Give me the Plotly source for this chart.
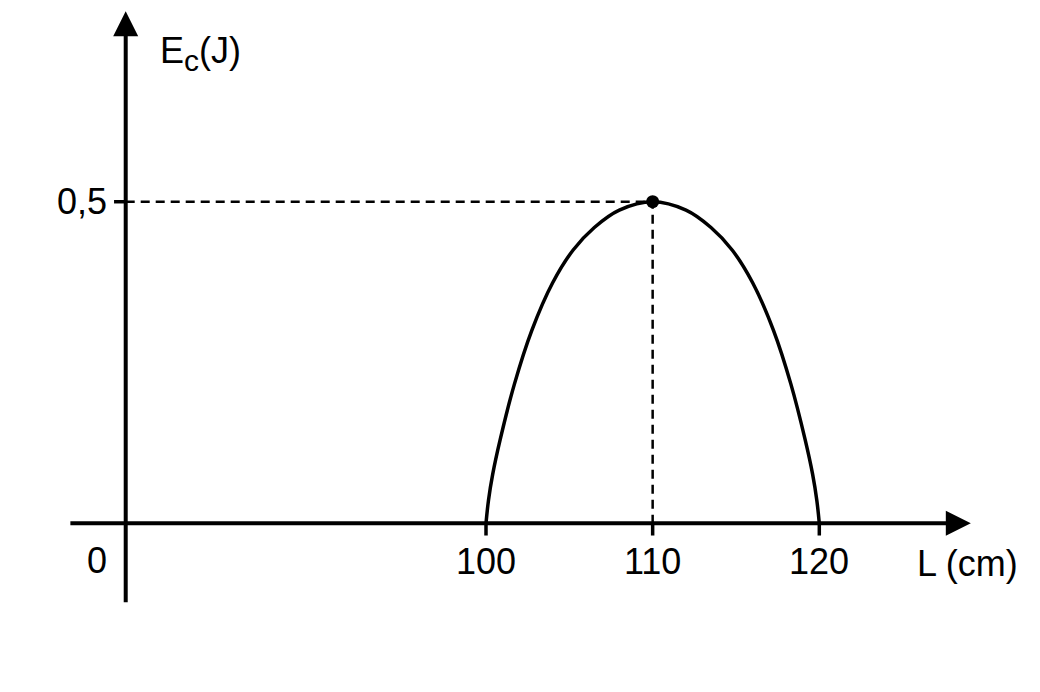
import plotly.graph_objects as go

# Ec (J) versus L (cm)
curve_L = [100, 100.15, 100.4, 100.85, 101.7, 102.75, 104, 105.23, 106.5, 108, 110,
           112, 113.5, 114.77, 116, 117.25, 118.3, 119.15, 119.6, 119.85, 120]
curve_Ec = [0, 0.036, 0.076, 0.13, 0.216, 0.30, 0.374, 0.425, 0.46, 0.487, 0.5,
            0.487, 0.46, 0.425, 0.374, 0.30, 0.216, 0.13, 0.076, 0.036, 0]

peak_L = [110]
peak_Ec = [0.5]

x_ticks = [100, 110, 120]
x_tick_labels = ["100", "110", "120"]
y_ticks = [0.5]
y_tick_labels = ["0,5"]

# where the (broken) axes sit in data units
origin_L = 78.38
x_axis_start, x_axis_end = 74.97, 129.09
y_axis_start, y_axis_end = -0.125, 0.796

font = dict(family="Liberation Sans, Arial, sans-serif", size=36, color="black")

fig = go.Figure()

# the curve
fig.add_trace(go.Scatter(
    x=curve_L, y=curve_Ec, mode='lines',
    line=dict(color='black', width=3.5, shape='spline', smoothing=1.0),
    hoverinfo='skip', showlegend=False
))

# dashed guides to the maximum
fig.add_trace(go.Scatter(
    x=[origin_L, peak_L[0], peak_L[0]], y=[peak_Ec[0], peak_Ec[0], 0], mode='lines',
    line=dict(color='black', width=2.5, dash='9px,6px'),
    hoverinfo='skip', showlegend=False
))

# peak dot
fig.add_trace(go.Scatter(
    x=peak_L, y=peak_Ec, mode='markers',
    marker=dict(color='black', size=13),
    hoverinfo='skip', showlegend=False
))

# axes with arrow heads
arrow = dict(text='', showarrow=True, arrowhead=2, arrowsize=1.25, arrowwidth=4, arrowcolor='black',
             xref='x', yref='y', axref='x', ayref='y')
fig.add_annotation(x=x_axis_end, y=0, ax=x_axis_start, ay=0, **arrow)
fig.add_annotation(x=origin_L, y=y_axis_end, ax=origin_L, ay=y_axis_start, **arrow)

# tick marks
for xv in x_ticks:
    fig.add_shape(type='line', x0=xv, x1=xv, y0=0, y1=-0.019, line=dict(color='black', width=3.5))
for yv in y_ticks:
    fig.add_shape(type='line', x0=origin_L - 0.7, x1=origin_L, y0=yv, y1=yv, line=dict(color='black', width=3.5))

# tick labels
for xv, lab in zip(x_ticks, x_tick_labels):
    fig.add_annotation(x=xv, y=-0.06, text=lab, showarrow=False, font=font, xanchor='center', yanchor='middle')
for yv, lab in zip(y_ticks, y_tick_labels):
    fig.add_annotation(x=origin_L - 1.0, y=yv, text=lab, showarrow=False, font=font, xanchor='right',
                       yanchor='middle')
fig.add_annotation(x=76.64, y=-0.058, text="0", showarrow=False, font=font, xanchor='center', yanchor='middle')

# axis titles
fig.add_annotation(x=125.75, y=-0.063, text="L (cm)", showarrow=False, font=font, xanchor='left',
                   yanchor='middle')
fig.add_annotation(x=80.3, y=0.73, text='E<sub><span style="font-size:30px">c</span></sub>(J)',
                   showarrow=False, font=font, xanchor='left', yanchor='middle')

# page body has an 8px margin, so the figure is a bit smaller than the window
fig.update_layout(
    width=1032, height=684,
    margin=dict(l=0, r=0, t=0, b=0),
    paper_bgcolor='white', plot_bgcolor='white',
    xaxis=dict(range=[71.317, 133.243], visible=False, fixedrange=True),
    yaxis=dict(range=[-0.2623, 0.8012], visible=False, fixedrange=True),
    showlegend=False,
)

fig.write_html("out.html")
